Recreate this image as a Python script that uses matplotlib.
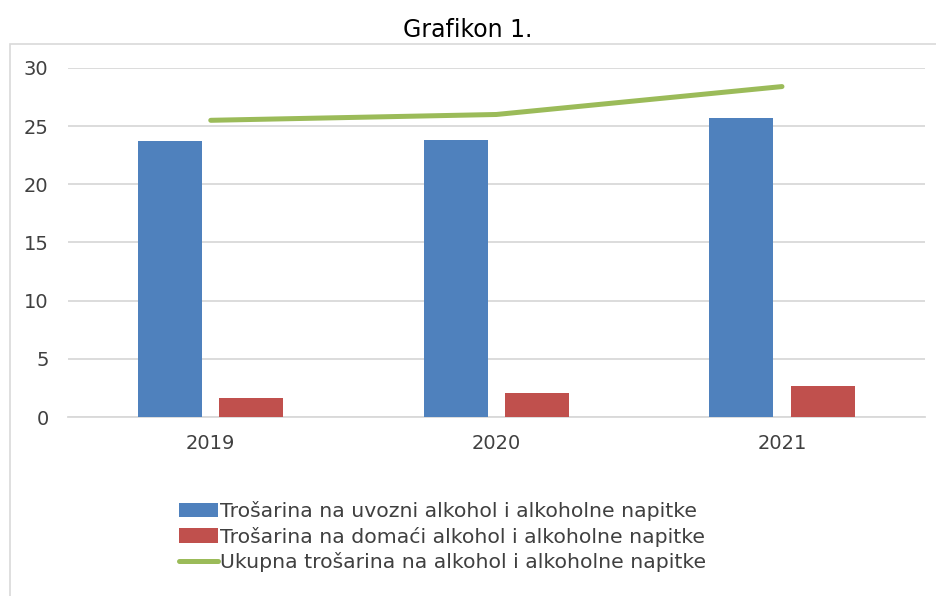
import matplotlib
matplotlib.use("Agg")
import matplotlib.pyplot as plt
from matplotlib.patches import Rectangle
import numpy as np

years = ["2019", "2020", "2021"]
uvozni = [23.7, 23.8, 25.7]
domaci = [1.6, 2.05, 2.7]
ukupno = [25.5, 26.0, 28.4]

labels = [
    "Trošarina na uvozni alkohol i alkoholne napitke",
    "Trošarina na domaći alkohol i alkoholne napitke",
    "Ukupna trošarina na alkohol i alkoholne napitke",
]

fig = plt.figure(figsize=(9.36, 5.96), dpi=100)
ax = fig.add_axes([0.0726, 0.3003, 0.9154, 0.5857])

x = np.arange(len(years))
w = 0.224
b1 = ax.bar(x - 0.142, uvozni, w, color="#4F81BD", zorder=3)
b2 = ax.bar(x + 0.142, domaci, w, color="#C0504D", zorder=3)
l1, = ax.plot(x, ukupno, color="#9BBB59", lw=3.6, solid_capstyle="round", zorder=4)

ax.set_xlim(-0.5, 2.5)
ax.set_ylim(0, 30)
ax.set_yticks(range(0, 31, 5))
ax.set_xticks(x)
ax.set_xticklabels(years)
ax.yaxis.grid(True, color="#D9D9D9", lw=1.3, zorder=0)
ax.tick_params(length=0, labelsize=14, colors="#404040")
ax.tick_params(axis="y", pad=14)
ax.tick_params(axis="x", pad=12)
for s in ["top", "right", "left"]:
    ax.spines[s].set_visible(False)
ax.spines["bottom"].set_color("#D9D9D9")
ax.spines["bottom"].set_linewidth(1.3)

fig.text(0.5, 0.95, "Grafikon 1.", ha="center", va="center", fontsize=17, color="black")

# chart border
fig.patches.append(Rectangle((10 / 936, -0.05), 1.0, 0.05 + 1 - 44 / 596,
                             transform=fig.transFigure, fill=False,
                             edgecolor="#D9D9D9", lw=1.2))

leg = fig.legend([b1, b2, l1], labels, loc="upper left",
                 bbox_to_anchor=(179 / 936, 1 - 501 / 596), frameon=False,
                 fontsize=14.7, handlelength=1.9, handletextpad=0.12,
                 labelspacing=0.27, borderpad=0, borderaxespad=0)
for t in leg.get_texts():
    t.set_color("#404040")

fig.savefig("out.png", dpi=100)
